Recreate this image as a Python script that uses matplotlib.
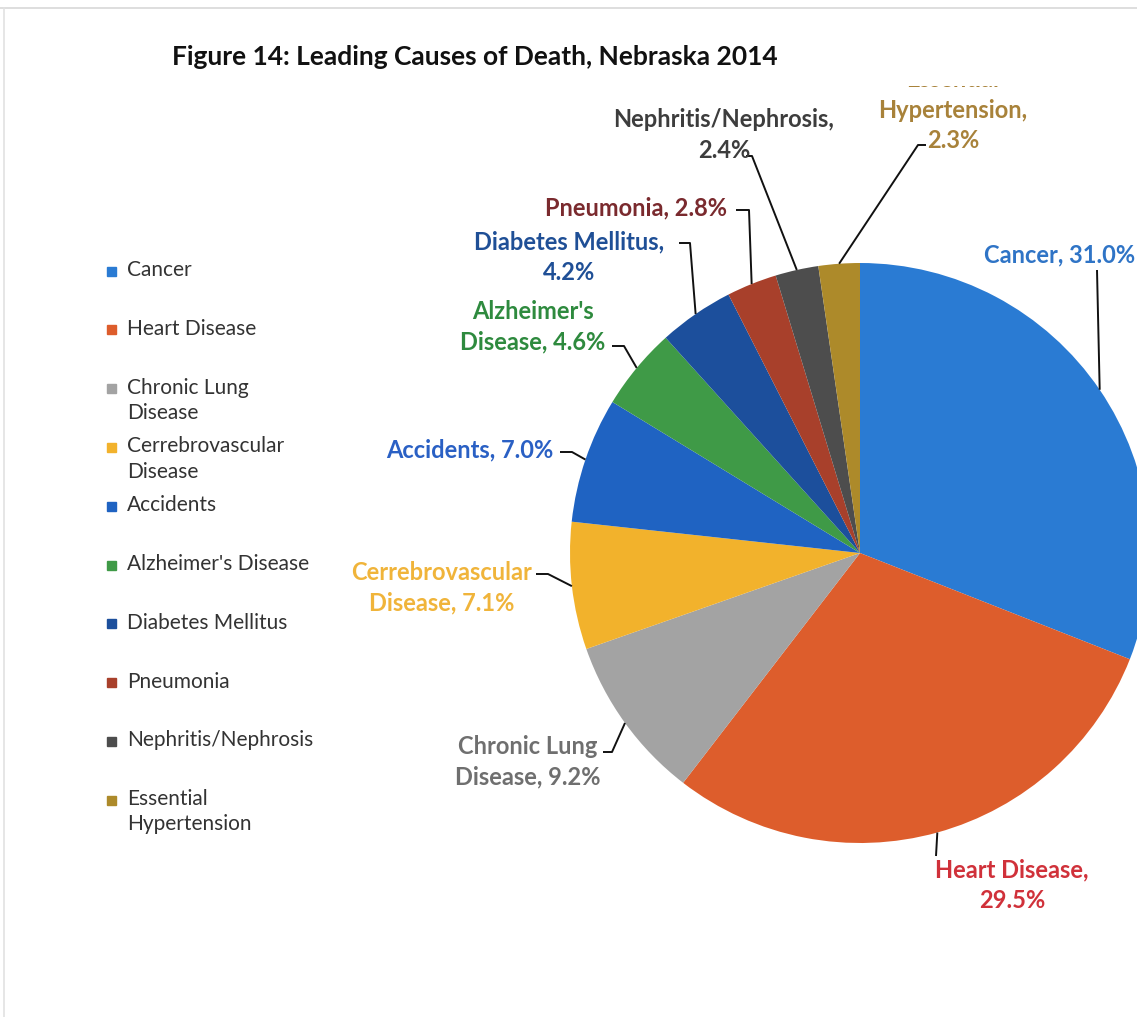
import numpy as np
import matplotlib
matplotlib.use("Agg")
import matplotlib.pyplot as plt
from matplotlib.transforms import Bbox

plt.rcParams['font.family'] = ['Lato', 'DejaVu Sans']

W, H = 1137, 1017

causes = ["Cancer", "Heart Disease", "Chronic Lung Disease", "Cerrebrovascular Disease",
          "Accidents", "Alzheimer's Disease", "Diabetes Mellitus", "Pneumonia",
          "Nephritis/Nephrosis", "Essential Hypertension"]
legend_text = ["Cancer", "Heart Disease", "Chronic Lung\nDisease", "Cerrebrovascular\nDisease",
               "Accidents", "Alzheimer's Disease", "Diabetes Mellitus", "Pneumonia",
               "Nephritis/Nephrosis", "Essential\nHypertension"]
pct = [31.0, 29.5, 9.2, 7.1, 7.0, 4.6, 4.2, 2.8, 2.4, 2.3]
label_text = ["Cancer, {:.1f}%", "Heart Disease,\n{:.1f}%", "Chronic Lung\nDisease, {:.1f}%",
              "Cerrebrovascular\nDisease, {:.1f}%", "Accidents, {:.1f}%",
              "Alzheimer's\nDisease, {:.1f}%", "Diabetes Mellitus,\n{:.1f}%",
              "Pneumonia, {:.1f}%", "Nephritis/Nephrosis,\n{:.1f}%",
              "Essential\nHypertension,\n{:.1f}%"]

slice_colors = ["#2a7bd3", "#dd5d2c", "#a3a3a3", "#f2b22c", "#1f63c2",
                "#3f9a47", "#1c4f9c", "#a8402b", "#4d4d4d", "#ad8a2a"]
label_colors = ["#2f74c6", "#d0313a", "#6f6f6f", "#f0b43a", "#2a60c4",
                "#2e8a3e", "#1f4f96", "#7a2a2e", "#3d3d3d", "#a8823a"]

# label anchor (x, y, ha) and leader-line bends, in pixels from the top-left corner
label_pos = [(1135, 255, "right"), (1012, 885, "center"), (528, 762, "center"),
             (442, 588, "center"), (470, 450, "center"), (533, 327, "center"),
             (569, 257, "center"), (636, 208, "center"), (724, 135, "center"),
             (953, 110, "center")]
bends = [[(1097, 270)], [(936, 856)], [(603, 752), (612, 752)],
         [(536, 574), (548, 574)], [(560, 452), (572, 452)],
         [(612, 346), (624, 346)], [(679, 243), (690, 243)],
         [(736, 210), (749, 210)], [(746, 156), (752, 156)],
         [(926, 145), (918, 145)]]

fig = plt.figure(figsize=(W / 100, H / 100), dpi=100)
fig.patch.set_facecolor("white")

cx, cy, r = 860, 553, 290
ax = fig.add_axes([(cx - r) / W, (H - cy - r) / H, 2 * r / W, 2 * r / H])
wedges, _ = ax.pie(pct, colors=slice_colors, startangle=90, counterclock=False,
                   radius=1, wedgeprops=dict(edgecolor="none"))
ax.set_xlim(-1, 1)
ax.set_ylim(-1, 1)
ax.set_aspect("equal")
ax.axis("off")

# overlay in pixel coordinates for text, legend and leader lines
ov = fig.add_axes([0, 0, 1, 1], zorder=5)
ov.set_xlim(0, W)
ov.set_ylim(H, 0)
ov.axis("off")
ov.patch.set_alpha(0)

# page rules
ov.plot([0, W], [8, 8], color="#d8d8d8", lw=1.2)
ov.plot([4, 4], [8, H], color="#e2e2e2", lw=1.2)

ov.text(172, 57, "Figure 14: Leading Causes of Death, Nebraska 2014", fontsize=19,
        fontweight="bold", color="#111111", ha="left", va="center")

for w, txt, val, col, (tx, ty, ha), pts in zip(wedges, label_text, pct, label_colors,
                                               label_pos, bends):
    mid = np.deg2rad((w.theta1 + w.theta2) / 2)
    dx, dy = ax.transData.transform((np.cos(mid), np.sin(mid)))
    ax_x, ax_y = dx, H - dy
    xs = [p[0] for p in pts] + [ax_x]
    ys = [p[1] for p in pts] + [ax_y]
    ov.plot(xs, ys, color="#111111", lw=1.4, solid_capstyle="butt")
    t = ov.text(tx, ty, txt.format(val), fontsize=17, fontweight="bold", color=col,
                ha=ha, va="center", multialignment="center", linespacing=1.38)
    if txt.startswith("Essential"):
        # the first line runs off the top of the page crop
        t.set_clip_on(True)
        t.set_clip_box(Bbox.from_extents(0, 0, W, H - 86))

# legend
for i, (name, col) in enumerate(zip(legend_text, slice_colors)):
    y = 271 + 58.8 * i
    ov.add_patch(plt.Rectangle((107, y - 4.5), 9, 9, color=col))
    ov.text(127, y - 11, name, fontsize=15, color="#333333", ha="left", va="top",
            linespacing=1.32)

fig.savefig("out.png", dpi=100)
